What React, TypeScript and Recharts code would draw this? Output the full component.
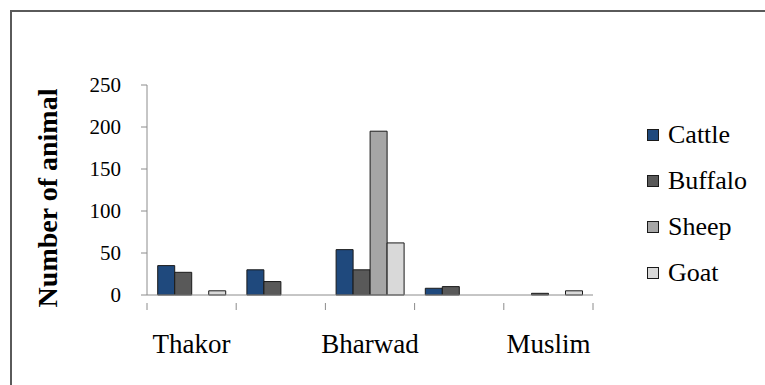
import React from 'react';
import { BarChart, Bar, XAxis, YAxis } from 'recharts';

const groups = ['Thakor', '', 'Bharwad', '', 'Muslim'];
const cattle = [35, 30, 54, 8, 0];
const buffalo = [27, 16, 30, 10, 2];
const sheep = [0, 0, 195, 0, 0];
const goat = [5, 0, 62, 0, 5];
const yTicks = [0, 50, 100, 150, 200, 250];

const series = [
  { key: 'Cattle', values: cattle, color: '#1F497D' },
  { key: 'Buffalo', values: buffalo, color: '#595959' },
  { key: 'Sheep', values: sheep, color: '#A6A6A6' },
  { key: 'Goat', values: goat, color: '#D9D9D9' },
];

const data = groups.map((g, i) => {
  const row: any = { id: 'c' + i, label: g };
  series.forEach((s) => (row[s.key] = s.values[i]));
  return row;
});

const W = 765;
const H = 385;
const MARGIN = { top: 85, right: 172, bottom: 30, left: 67 };
const Y_AXIS_W = 80;
const PLOT_LEFT = MARGIN.left + Y_AXIS_W;
const PLOT_W = W - PLOT_LEFT - MARGIN.right;
const BAND = PLOT_W / groups.length;
const FONT = '"Liberation Serif", "Times New Roman", serif';
const AXIS = '#8c8c8c';

const XTick = (props: any) => {
  const { x, y, index } = props;
  const label = groups[index];
  return (
    <g>
      <line x1={x - BAND / 2} x2={x - BAND / 2} y1={y} y2={y + 7} stroke={AXIS} strokeWidth={1} />
      {index === groups.length - 1 && (
        <line x1={x + BAND / 2} x2={x + BAND / 2} y1={y} y2={y + 7} stroke={AXIS} strokeWidth={1} />
      )}
      <text x={x} y={y + 50} textAnchor="middle" fontFamily={FONT} fontSize={27} fill="#000">
        {label}
      </text>
    </g>
  );
};

const YLabel = (props: any) => {
  const vb = props.viewBox || { x: MARGIN.left, y: MARGIN.top, width: Y_AXIS_W, height: 210 };
  const cx = vb.x - 10;
  const cy = vb.y + vb.height / 2 + 8;
  return (
    <text
      x={cx}
      y={cy}
      transform={`rotate(-90, ${cx}, ${cy})`}
      textAnchor="middle"
      fontFamily={FONT}
      fontWeight="bold"
      fontSize={28}
      fill="#000"
    >
      Number of animal
    </text>
  );
};

export default function App() {
  return (
    <div style={{ position: 'absolute', left: 0, top: 0, width: W, height: H, overflow: 'hidden', background: '#fff' }}>
      <div
        style={{
          position: 'absolute',
          left: 10,
          top: 10,
          width: 820,
          height: 420,
          border: '2px solid #5a5a5a',
          boxSizing: 'border-box',
        }}
      />
      <div style={{ position: 'absolute', left: 0, top: 0 }}>
        <BarChart width={W} height={H} data={data} margin={MARGIN} barCategoryGap="12%" barGap={0}>
          <XAxis
            dataKey="id"
            type="category"
            interval={0}
            height={60}
            axisLine={{ stroke: AXIS, strokeWidth: 1 }}
            tickLine={false}
            tick={<XTick />}
          />
          <YAxis
            width={Y_AXIS_W}
            domain={[0, 250]}
            ticks={yTicks}
            interval={0}
            axisLine={{ stroke: AXIS, strokeWidth: 1 }}
            tickLine={{ stroke: AXIS, strokeWidth: 1 }}
            tickSize={6}
            tickMargin={20}
            tick={{ fontFamily: FONT, fontSize: 21, fill: '#000' }}
            label={<YLabel />}
          />
          {series.map((s) => (
            <Bar
              key={s.key}
              dataKey={s.key}
              fill={s.color}
              stroke="#1a1a1a"
              strokeWidth={1}
              isAnimationActive={false}
            />
          ))}
        </BarChart>
      </div>
      <div style={{ position: 'absolute', left: 647, top: 112, fontFamily: FONT, fontSize: 26, color: '#000' }}>
        {series.map((s) => (
          <div key={s.key} style={{ height: 46, display: 'flex', alignItems: 'center' }}>
            <span
              style={{
                display: 'inline-block',
                width: 12,
                height: 12,
                background: s.color,
                border: '1px solid #1a1a1a',
                boxSizing: 'border-box',
                marginRight: 9,
              }}
            />
            <span style={{ lineHeight: '26px' }}>{s.key}</span>
          </div>
        ))}
      </div>
    </div>
  );
}
